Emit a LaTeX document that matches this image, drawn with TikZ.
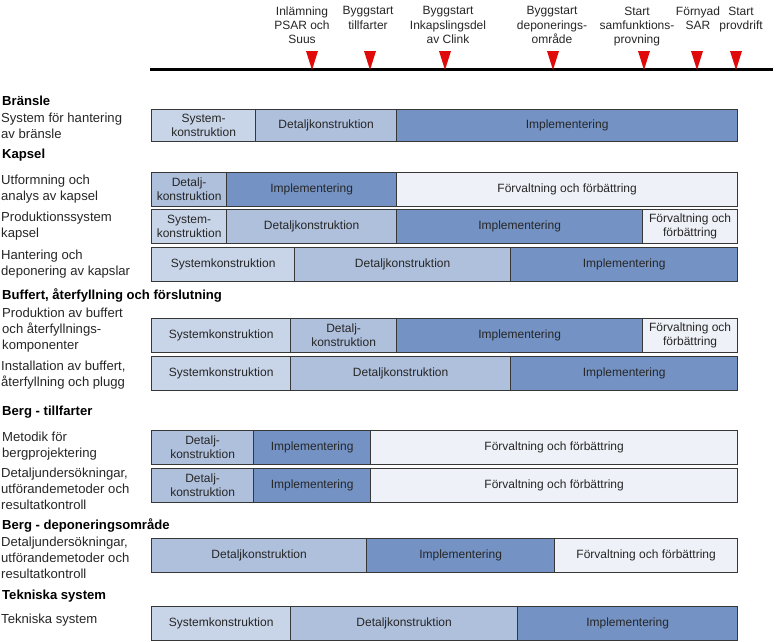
\documentclass[tikz,border=0pt]{standalone}
\usepackage{fontspec}
\setmainfont{Liberation Sans}
\usetikzlibrary{calc}
\definecolor{csys}{RGB}{200,213,232}
\definecolor{cdet}{RGB}{175,192,220}
\definecolor{cimp}{RGB}{116,147,196}
\definecolor{cforv}{RGB}{238,241,247}
\definecolor{cbord}{RGB}{55,55,55}
\definecolor{cred}{RGB}{225,10,10}
\tikzset{
  seg/.style={draw=cbord, line width=1.3pt, anchor=north west, inner sep=0pt, align=center,
    font=\fontsize{12}{14}\selectfont, text=black!85},
  sys/.style={seg, fill=csys},
  det/.style={seg, fill=cdet},
  imp/.style={seg, fill=cimp},
  forv/.style={seg, fill=cforv},
  head/.style={anchor=west, inner sep=0pt, font=\fontsize{13.1}{15}\selectfont\bfseries},
  lab/.style={anchor=north west, inner sep=0pt, align=left, font=\fontsize{13.1}{16}\selectfont, text=black!85},
  mile/.style={anchor=north, inner sep=0pt, align=center, font=\fontsize{12}{14.2}\selectfont, text=black!85},
  marker/.style={fill=cred}
}
\newcommand{\segm}[7]{% name, style, x1, x2, y1, y2, text
  \pgfmathsetmacro{\segw}{#4-#3}\pgfmathsetmacro{\segh}{#6-#5}%
  \node[#2, minimum width=\segw pt, minimum height=\segh pt] (#1) at (#3,#5) {#7};}
\begin{document}
\begin{tikzpicture}[x=1pt,y=-1pt]
\useasboundingbox (0,0) rectangle (776,641);
% timeline
\coordinate (tl0) at (150,69);
\coordinate (tl1) at (773,69);
\draw[line width=3pt] (tl0) -- (tl1);
\foreach \n/\x in {m1/312,m2/370,m3/445,m4/553,m5/644,m6/697,m7/736}{
  \coordinate (\n) at (\x,70);
  \fill[marker] ($(\n)+(-6,-19)$) -- ($(\n)+(6,-19)$) -- (\n) -- cycle;
}
\node[mile] (t1) at (302,6.5) {Inlämning\\PSAR och\\Suus};
\node[mile] (t2) at (368,6.5) {Byggstart\\tillfarter};
\node[mile] (t3) at (448,6.5) {Byggstart\\Inkapslingsdel\\av Clink};
\node[mile] (t4) at (552,6.5) {Byggstart\\deponerings-\\område};
\node[mile] (t5) at (637,6.5) {Start\\samfunktions-\\provning};
\node[mile] (t6) at (698,6.5) {Förnyad\\SAR};
\node[mile] (t7) at (741,6.5) {Start\\provdrift};
% headings
\node[head] (h1) at (2,101) {Bränsle};
\node[head] (h2) at (2,155) {Kapsel};
\node[head] (h3) at (2,295) {Buffert, återfyllning och förslutning};
\node[head] (h4) at (2,412) {Berg - tillfarter};
\node[head] (h5) at (2,525) {Berg - deponeringsområde};
\node[head] (h6) at (2,596) {Tekniska system};
% labels
\node[lab] (l1) at (1,113) {System för hantering\\av bränsle};
\node[lab] (l2) at (1,175) {Utformning och\\analys av kapsel};
\node[lab] (l3) at (1,212) {Produktionssystem\\kapsel};
\node[lab] (l4) at (1,250) {Hantering och\\deponering av kapslar};
\node[lab] (l5) at (2,308) {Produktion av buffert\\och återfyllnings-\\komponenter};
\node[lab] (l6) at (1,361) {Installation av buffert,\\återfyllning och plugg};
\node[lab] (l7) at (2,432) {Metodik för\\bergprojektering};
\node[lab] (l8) at (1,468) {Detaljundersökningar,\\utförandemetoder och\\resultatkontroll};
\node[lab] (l9) at (1,537) {Detaljundersökningar,\\utförandemetoder och\\resultatkontroll};
\node[lab] (l10) at (1,614) {Tekniska system};
% bars
\segm{a1}{sys}{151}{255}{109}{141}{System-\\konstruktion}
\segm{a2}{det}{255}{396}{109}{141}{Detaljkonstruktion}
\segm{a3}{imp}{396}{737}{109}{141}{Implementering}
\segm{b1}{det}{151}{226}{172}{206}{Detalj-\\konstruktion}
\segm{b2}{imp}{226}{396}{172}{206}{Implementering}
\segm{b3}{forv}{396}{737}{172}{206}{Förvaltning och förbättring}
\segm{c1}{sys}{151}{226}{209}{243}{System-\\konstruktion}
\segm{c2}{det}{226}{396}{209}{243}{Detaljkonstruktion}
\segm{c3}{imp}{396}{642}{209}{243}{Implementering}
\segm{c4}{forv}{642}{737}{209}{243}{Förvaltning och\\förbättring}
\segm{d1}{sys}{151}{294}{247}{281}{Systemkonstruktion}
\segm{d2}{det}{294}{510}{247}{281}{Detaljkonstruktion}
\segm{d3}{imp}{510}{737}{247}{281}{Implementering}
\segm{e1}{sys}{151}{290}{318}{352}{Systemkonstruktion}
\segm{e2}{det}{290}{396}{318}{352}{Detalj-\\konstruktion}
\segm{e3}{imp}{396}{642}{318}{352}{Implementering}
\segm{e4}{forv}{642}{737}{318}{352}{Förvaltning och\\förbättring}
\segm{f1}{sys}{151}{290}{356}{390}{Systemkonstruktion}
\segm{f2}{det}{290}{510}{356}{390}{Detaljkonstruktion}
\segm{f3}{imp}{510}{737}{356}{390}{Implementering}
\segm{g1}{det}{151}{253}{430}{464}{Detalj-\\konstruktion}
\segm{g2}{imp}{253}{370}{430}{464}{Implementering}
\segm{g3}{forv}{370}{737}{430}{464}{Förvaltning och förbättring}
\segm{i1}{det}{151}{253}{468}{502}{Detalj-\\konstruktion}
\segm{i2}{imp}{253}{370}{468}{502}{Implementering}
\segm{i3}{forv}{370}{737}{468}{502}{Förvaltning och förbättring}
\segm{j1}{det}{151}{366}{538}{572}{Detaljkonstruktion}
\segm{j2}{imp}{366}{554}{538}{572}{Implementering}
\segm{j3}{forv}{554}{737}{538}{572}{Förvaltning och förbättring}
\segm{k1}{sys}{151}{290}{606}{640}{Systemkonstruktion}
\segm{k2}{det}{290}{517}{606}{640}{Detaljkonstruktion}
\segm{k3}{imp}{517}{737}{606}{640}{Implementering}
\end{tikzpicture}
\end{document}
